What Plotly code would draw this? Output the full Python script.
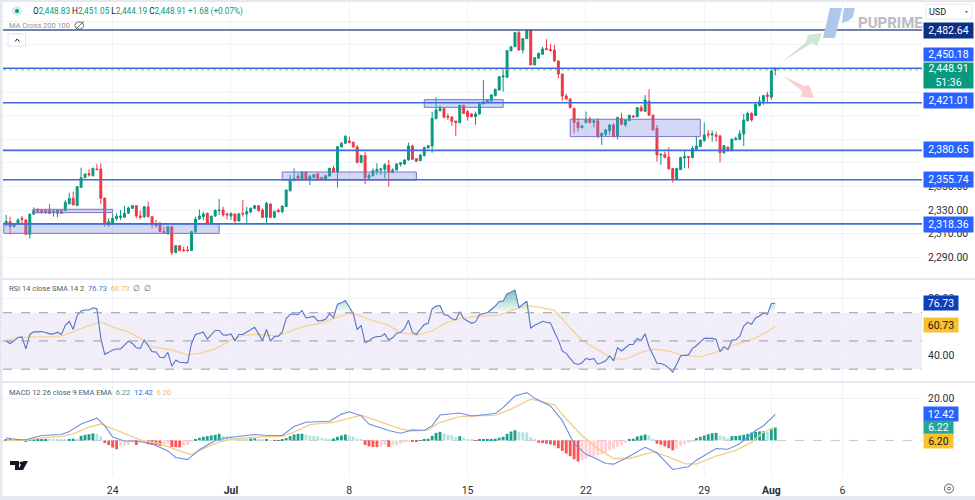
import numpy as np
import plotly.graph_objects as go

W, H = 975, 500

# XAUUSD 4h bars
opens = [2318.8,2320.2,2316.0,2318.3,2323.1,2321.7,2309.5,2326.5,2330.1,2329.6,2329.6,2329.6,2328.4,2327.3,2329.6,2329.6,2335.2,2340.0,2333.8,2349.3,
         2357.5,2360.9,2359.2,2364.9,2364.9,2340.3,2317.4,2318.8,2322.8,2323.9,2323.9,2327.3,2331.5,2333.8,2325.0,2324.5,2332.7,2324.5,2318.3,2318.3,
         2311.8,2310.9,2316.0,2294.2,2299.9,2296.2,2296.2,2295.7,2311.8,2322.5,2324.5,2327.3,2318.8,2325.0,2329.6,2330.1,2326.7,2325.0,2326.7,2320.8,
         2327.3,2326.7,2328.4,2331.5,2333.8,2330.1,2323.9,2335.2,2323.9,2330.1,2328.7,2333.0,2346.5,2355.5,2358.9,2356.4,2362.3,2356.4,2357.8,2360.6,
         2357.5,2355.5,2358.9,2365.4,2362.3,2383.5,2386.6,2388.6,2387.5,2383.5,2370.5,2376.2,2357.2,2359.2,2362.9,2364.0,2364.6,2368.0,2362.0,2364.0,
         2368.8,2369.1,2372.5,2384.4,2373.6,2371.9,2376.2,2382.7,2384.4,2407.5,2414.3,2416.0,2409.5,2408.9,2405.6,2404.1,2418.8,2413.5,2411.5,2409.2,
         2411.5,2420.0,2421.4,2422.5,2427.0,2431.8,2442.8,2442.6,2464.9,2468.5,2480.4,2465.7,2475.3,2482.6,2453.0,2458.7,2462.1,2466.9,2466.0,2465.7,
         2456.4,2445.4,2426.7,2424.2,2416.3,2404.4,2399.9,2404.1,2407.2,2404.4,2405.6,2392.8,2394.3,2397.4,2402.2,2392.3,2407.8,2402.2,2405.8,2409.8,
         2409.0,2416.9,2413.8,2422.2,2410.4,2399.1,2376.7,2377.0,2374.8,2365.2,2356.4,2364.3,2374.2,2375.3,2374.5,2381.6,2383.8,2388.9,2394.5,2393.7,
         2393.7,2392.8,2378.7,2383.2,2380.4,2389.7,2390.0,2394.5,2405.8,2412.0,2410.1,2418.5,2422.2,2427.6,2425.6,2448.83]
highs = [2325.9,2324.5,2318.3,2323.1,2325.0,2322.2,2327.3,2332.4,2331.5,2330.7,2330.7,2335.2,2330.7,2330.1,2330.1,2338.6,2344.8,2345.7,2349.9,2366.0,
         2361.2,2364.6,2366.0,2369.1,2369.7,2340.3,2323.1,2327.3,2327.3,2330.1,2333.8,2332.9,2334.4,2333.8,2329.6,2333.5,2337.2,2324.5,2321.7,2320.2,
         2316.0,2316.6,2316.0,2300.5,2300.5,2299.0,2299.6,2311.8,2324.5,2330.7,2328.7,2327.9,2325.0,2330.7,2339.4,2332.9,2327.9,2327.9,2327.3,2327.9,
         2338.6,2332.9,2332.4,2334.4,2334.4,2331.5,2337.2,2335.8,2329.6,2331.5,2334.1,2347.1,2359.8,2365.4,2361.2,2362.9,2362.9,2359.8,2360.6,2361.8,
         2358.4,2359.8,2366.0,2367.4,2383.8,2388.0,2393.7,2392.3,2388.0,2385.2,2376.7,2379.6,2361.2,2365.4,2369.7,2365.4,2369.7,2372.5,2365.4,2369.7,
         2370.8,2373.1,2387.2,2385.2,2374.2,2377.3,2383.8,2385.2,2413.5,2425.6,2418.8,2417.1,2412.0,2409.2,2405.6,2419.4,2419.4,2414.9,2412.0,2413.5,
         2420.5,2440.3,2423.9,2428.2,2432.9,2443.7,2448.8,2465.2,2468.5,2481.0,2482.1,2475.3,2482.6,2483.2,2459.2,2463.5,2468.5,2474.8,2470.8,2470.0,
         2456.4,2445.4,2428.4,2424.8,2416.3,2407.8,2402.2,2413.5,2409.2,2406.4,2407.8,2395.7,2398.5,2403.0,2403.6,2409.2,2412.6,2407.0,2410.4,2410.4,
         2416.9,2419.1,2427.6,2432.4,2411.0,2402.2,2378.2,2379.6,2383.2,2365.7,2366.0,2375.3,2380.4,2375.9,2384.4,2392.3,2389.4,2404.1,2397.9,2397.4,
         2396.5,2393.7,2385.2,2384.4,2390.9,2392.3,2397.9,2411.5,2413.5,2412.9,2420.5,2426.2,2427.6,2430.4,2450.2,2451.05]
lows = [2316.0,2309.5,2315.4,2317.7,2318.8,2308.9,2305.8,2326.5,2327.3,2326.7,2326.7,2327.3,2324.5,2323.9,2326.7,2329.6,2335.2,2334.4,2333.8,2349.3,
        2357.0,2358.4,2358.4,2364.0,2334.9,2316.0,2316.0,2317.4,2321.1,2321.7,2323.9,2327.3,2331.5,2323.1,2322.2,2323.1,2323.9,2314.6,2315.4,2311.8,
        2310.4,2308.9,2292.0,2293.4,2295.7,2294.8,2294.8,2295.7,2310.4,2321.7,2321.7,2318.3,2318.3,2324.5,2325.9,2324.5,2322.2,2321.7,2319.4,2320.2,
        2324.5,2318.8,2327.3,2330.7,2328.7,2323.1,2318.3,2323.1,2323.1,2327.9,2327.3,2333.0,2345.7,2354.1,2355.5,2355.5,2355.5,2351.3,2356.9,2356.1,
        2355.5,2355.0,2358.4,2362.3,2349.3,2383.5,2386.6,2386.6,2383.5,2369.7,2369.7,2351.9,2356.4,2358.4,2359.8,2359.8,2357.0,2349.9,2361.2,2363.5,
        2366.9,2368.3,2371.9,2372.5,2370.8,2371.4,2375.3,2382.4,2378.7,2407.0,2413.5,2408.1,2406.4,2401.3,2392.8,2403.6,2411.5,2405.8,2408.7,2402.2,
        2410.9,2420.0,2420.8,2422.0,2426.5,2431.3,2430.4,2442.0,2464.9,2468.0,2465.2,2462.9,2475.3,2453.0,2452.9,2458.1,2461.5,2465.7,2464.3,2455.8,
        2441.7,2422.5,2423.4,2416.3,2395.1,2396.5,2399.3,2403.6,2403.6,2400.2,2390.9,2385.2,2392.3,2393.7,2391.7,2390.0,2402.2,2400.7,2405.8,2408.4,
        2409.0,2413.5,2413.2,2409.8,2397.4,2371.1,2368.3,2373.9,2364.0,2353.3,2355.0,2364.0,2365.4,2365.4,2373.9,2381.0,2383.8,2388.0,2390.9,2388.0,
        2388.0,2370.5,2377.6,2379.6,2379.8,2388.9,2389.4,2384.4,2405.0,2405.0,2409.8,2418.0,2419.1,2420.5,2423.4,2444.19]
closes = [2320.5,2316.0,2318.3,2321.7,2322.2,2309.5,2326.5,2329.6,2329.0,2328.7,2328.4,2327.3,2329.0,2329.9,2327.3,2336.6,2340.0,2334.4,2349.9,2357.5,
          2360.6,2359.8,2365.4,2364.3,2340.0,2318.3,2320.2,2323.1,2325.0,2325.0,2327.3,2331.8,2333.8,2325.0,2323.9,2332.9,2324.5,2318.3,2316.9,2311.8,
          2310.9,2316.0,2294.2,2299.9,2295.7,2295.7,2295.7,2311.8,2322.5,2325.0,2326.7,2318.8,2325.0,2329.9,2330.1,2325.9,2325.9,2327.3,2320.8,2326.7,
          2326.7,2328.7,2331.5,2333.8,2329.6,2323.9,2335.8,2323.9,2328.7,2328.7,2333.5,2347.1,2356.1,2356.7,2357.0,2362.3,2356.4,2358.4,2360.1,2356.9,
          2356.4,2359.2,2365.4,2362.3,2383.8,2386.6,2392.3,2387.2,2383.5,2370.5,2376.4,2357.5,2359.2,2363.4,2364.6,2364.9,2368.5,2362.0,2364.0,2369.1,
          2370.2,2372.5,2384.4,2373.1,2371.4,2376.7,2383.0,2384.6,2407.8,2414.9,2416.3,2408.7,2408.7,2405.3,2404.1,2418.8,2412.0,2409.2,2409.2,2411.5,
          2420.0,2421.7,2423.4,2427.6,2432.4,2443.1,2443.7,2465.2,2468.5,2480.4,2465.7,2475.3,2482.6,2453.0,2459.2,2462.9,2466.6,2466.0,2465.2,2456.4,
          2445.4,2426.7,2424.2,2416.9,2404.4,2399.9,2401.3,2406.9,2404.1,2405.8,2392.8,2395.1,2398.0,2402.2,2392.3,2408.4,2402.7,2406.4,2410.4,2409.0,
          2416.9,2414.0,2423.4,2410.4,2398.0,2376.7,2377.3,2374.8,2365.2,2356.7,2365.2,2374.5,2375.3,2374.5,2382.4,2384.4,2389.4,2393.7,2393.7,2394.5,
          2392.5,2378.7,2384.6,2380.4,2390.0,2390.9,2394.8,2406.4,2412.0,2406.4,2419.7,2422.2,2427.0,2426.2,2447.9,2448.91]

rsi = [49.9,48.2,50.1,52.5,52.9,44.3,54.6,56.4,56.4,56.7,56.0,55.0,55.0,56.2,54.6,61.1,63.9,58.1,68.1,71.2,
       71.9,71.9,73.5,72.8,51.8,40.5,41.9,43.6,44.3,44.3,47.1,49.9,48.2,45.2,44.7,50.6,46.6,42.4,42.2,38.4,
       38.2,41.9,32.1,36.3,34.9,34.5,34.5,48.2,54.6,55.5,56.2,51.3,54.6,57.4,57.4,54.3,54.1,55.0,50.1,54.6,
       54.6,56.4,58.1,59.7,55.0,50.1,58.1,49.9,53.1,53.4,56.4,65.8,68.8,69.1,68.6,71.6,66.3,66.7,67.4,64.2,
       64.4,65.3,69.3,66.5,76.1,77.0,78.7,74.0,69.3,58.1,61.1,48.7,50.1,52.2,53.1,53.1,55.0,50.6,52.2,55.5,
       56.0,58.8,64.6,56.0,54.6,58.3,61.6,62.5,72.8,74.7,75.1,68.8,68.1,65.8,64.9,70.7,65.8,64.2,62.5,63.5,
       68.6,69.5,70.0,72.3,74.7,78.0,78.2,83.3,84.5,86.1,73.7,76.3,78.2,59.2,61.1,62.3,63.9,63.2,62.8,56.4,
       50.6,42.9,41.2,37.7,34.2,33.3,34.5,37.7,36.8,37.5,33.5,34.5,35.9,39.4,35.9,45.2,42.9,45.2,47.5,47.5,
       51.8,50.4,55.0,45.9,40.1,34.2,34.0,33.0,30.7,27.9,33.5,39.4,39.8,40.1,44.7,46.6,49.4,51.8,51.8,51.8,
       51.1,42.4,46.1,43.8,50.4,50.8,53.4,60.6,63.2,61.8,66.3,67.7,69.8,68.8,76.5,76.73]
rsi_ma_bars = [0,3,7,11,14,17,20,24,27,31,34,37,42,46,49,53,57,60,64,69,72,75,80,83,87,89,92,97,
               100,104,108,111,115,120,125,128,132,135,139,142,146,150,154,157,161,164,168,171,176,181,185,190,193,195]
rsi_ma = [50.1,52.5,52.9,52.9,53.6,56.4,59.9,63.5,59.9,56.4,51.8,45.9,43.6,40.1,41.2,44.3,50.6,54.1,54.6,53.6,56.9,59.9,62.8,65.8,69.8,68.6,65.3,61.1,
          56.0,54.1,56.9,62.3,65.8,67.7,68.1,71.6,75.1,74.0,71.6,62.3,50.6,43.6,37.3,37.3,41.9,44.3,42.9,40.1,38.7,42.9,47.5,52.2,56.4,60.73]

macd_bars = [0,3,5,9,14,16,19,23,25,27,30,33,37,41,43,46,49,53,56,59,63,66,70,73,76,82,85,87,90,92,97,
             100,103,106,108,110,113,115,118,124,126,129,132,134,138,141,144,147,149,152,154,157,162,165,169,173,175,180,183,186,190,192,195]
macd = [1.25,0.3,0.3,2.35,2.8,4.2,7.8,10.6,7.0,1.6,-0.3,-0.3,-1.6,-5.0,-8.1,-9.1,-4.4,0.0,1.25,1.9,2.8,2.35,2.35,6.6,8.6,9.1,12.5,13.6,11.7,7.8,4.7,
        3.4,5.0,4.7,7.0,12.05,12.5,13.0,11.6,12.8,15.6,21.1,22.7,20.0,16.4,9.4,-1.6,-6.6,-8.1,-11.0,-11.3,-8.6,-3.3,-5.9,-13.8,-12.5,-9.4,-3.9,-4.2,-1.6,4.7,7.0,12.42]
signal_bars = [0,5,9,14,17,21,24,27,31,34,39,43,47,51,54,58,63,70,73,77,83,87,90,94,
               100,103,107,110,115,118,124,128,133,135,139,142,146,150,154,158,164,168,172,175,180,185,189,192,195]
signal = [0.0,0.0,1.25,1.9,3.1,6.3,7.8,5.5,2.35,0.3,-1.6,-4.4,-6.7,-3.1,-0.8,0.8,1.6,1.9,3.9,7.5,8.6,10.5,12.05,9.4,
          5.5,4.4,5.0,8.6,11.3,11.6,12.05,14.9,19.6,18.8,16.9,10.2,2.35,-3.9,-8.6,-8.6,-5.5,-7.8,-11.0,-11.3,-7.5,-4.7,-0.8,3.9,6.20]
hist = [0.31,0.31,0.25,0.3,0.16,-0.3,0.16,0.47,0.55,0.63,0.7,0.5,0.45,0.4,0.31,0.25,0.78,0.85,0.7,2.19,
        2.66,2.97,3.3,3.1,1.9,-1.25,-2.19,-3.44,-4.23,-2.5,-2.35,-2.19,-1.1,-2.19,-0.94,-0.78,-1.88,-2.19,-2.5,-2.6,
        -1.88,-1.57,-3.13,-3.2,-3.3,-2.5,-2.19,-0.78,0.47,1.25,1.72,2.03,2.35,2.66,3.13,2.19,2.03,1.88,0.94,0.63,
        0.31,0.25,0.94,1.0,0.31,0.25,0.47,0.16,-0.1,0.1,0.47,1.1,2.03,2.82,3.13,3.2,2.82,2.19,2.1,1.88,
        1.25,0.94,0.6,0.94,1.72,2.35,2.82,2.35,1.88,0.78,0.31,-2.19,-2.82,-3.13,-3.2,-2.82,-2.19,-3.13,-2.35,-2.19,
        -1.57,-0.94,-0.47,-0.5,-0.55,0.16,0.47,0.78,2.19,3.6,4.07,3.44,2.82,2.35,1.57,2.03,1.25,0.63,0.31,-0.2,
        0.31,0.35,0.47,0.63,0.78,1.25,1.72,3.13,4.23,4.85,4.07,3.91,3.8,1.57,0.31,-1.1,-1.25,-1.57,-1.88,-2.35,
        -3.76,-5.0,-6.26,-7.51,-8.92,-10.02,-9.39,-8.61,-7.83,-7.51,-7.04,-6.57,-6.26,-4.7,-3.91,-3.13,-2.35,-1.1,0.63,0.78,
        1.88,2.35,2.82,2.35,0.78,-1.57,-2.03,-2.82,-3.76,-4.7,-3.91,-2.82,-1.88,-1.1,-0.31,1.1,1.72,2.35,2.97,3.44,
        3.6,2.35,2.03,1.1,2.03,2.1,2.35,2.66,3.13,3.76,4.07,4.3,4.38,4.1,5.63,6.22]

# drawn levels and zones from the chart
levels = [2450.18, 2421.01, 2380.65, 2355.74, 2318.36]
top_level = 2482.64
last_price = 2448.91
zones = [(6.8, 27, 2327.9, 2330.7), (-0.6, 54, 2310.3, 2318.3), (70, 104, 2355.5, 2362.3),
         (106, 126, 2417.1, 2423.6), (143, 176, 2392.3, 2407.0)]

time_ticks = [27, 57, 87, 117, 147, 177, 194, 212]
time_labels = ["24", "<b>Jul</b>", "8", "15", "22", "29", "<b>Aug</b>", "6"]

FONT = "Roboto, Arial, sans-serif"
GRID = "#f0f3fa"
TEXT = "#131722"
GREEN, RED = "#089981", "#f23645"
NB = "\u00a0\u00a0"


def px(x):
    return x / W


def py(y):
    return 1 - y / H


def dom(top, bot):
    return [py(bot), py(top)]


bars = np.arange(len(closes))
x_range = [-0.8, 232.2]
# price, rsi and macd panes are linear, ranges taken from the tick spacing
main_range = [2272.5, 2505.5]
rsi_range = [21.6, 93.2]
macd_range = [-17.4, 27.3]

fig = go.Figure()

fig.add_trace(go.Candlestick(x=bars, open=opens, high=highs, low=lows, close=closes,
                             increasing=dict(line=dict(color=GREEN, width=1), fillcolor=GREEN),
                             decreasing=dict(line=dict(color=RED, width=1), fillcolor=RED),
                             whiskerwidth=0, xaxis="x", yaxis="y", showlegend=False))

# rsi above the 70 band, fades out towards the band
fig.add_trace(go.Scatter(x=bars, y=[70] * len(bars), mode="lines", line=dict(width=0),
                         xaxis="x2", yaxis="y2", showlegend=False))
fig.add_trace(go.Scatter(x=bars, y=np.maximum(rsi, 70), mode="lines", line=dict(width=0), fill="tonexty",
                         fillgradient=dict(type="vertical", start=86, stop=70,
                                           colorscale=[[0, "rgba(8,153,129,0.55)"], [1, "rgba(8,153,129,0.02)"]]),
                         xaxis="x2", yaxis="y2", showlegend=False))
fig.add_trace(go.Scatter(x=rsi_ma_bars, y=rsi_ma, mode="lines", line=dict(color="#f6d49a", width=1.4),
                         xaxis="x2", yaxis="y2", showlegend=False))
fig.add_trace(go.Scatter(x=bars, y=rsi, mode="lines", line=dict(color="#5574c4", width=1.1),
                         xaxis="x2", yaxis="y2", showlegend=False))

# macd histogram colour depends on direction
hist_colors = []
for i, v in enumerate(hist):
    prev = hist[i - 1] if i else 0
    if v >= 0:
        hist_colors.append("#1f9e8c" if v >= prev else "#b6e2dc")
    else:
        hist_colors.append("#ff5252" if v <= prev else "#ffcdd2")
fig.add_trace(go.Bar(x=bars, y=hist, marker=dict(color=hist_colors, line=dict(width=0)), width=0.72,
                     xaxis="x3", yaxis="y3", showlegend=False))
fig.add_trace(go.Scatter(x=signal_bars, y=signal, mode="lines", line=dict(color="#f4cd8a", width=1.3),
                         xaxis="x3", yaxis="y3", showlegend=False))
fig.add_trace(go.Scatter(x=macd_bars, y=macd, mode="lines", line=dict(color="#6e90e0", width=1.1),
                         xaxis="x3", yaxis="y3", showlegend=False))

shapes = []
# rsi band
shapes.append(dict(type="rect", xref="x2", yref="y2", x0=x_range[0], x1=x_range[1], y0=30, y1=70,
                   fillcolor="rgba(126,87,194,0.10)", line=dict(width=0), layer="below"))
for v in [70, 50, 30]:
    shapes.append(dict(type="line", xref="x2", yref="y2", x0=x_range[0], x1=x_range[1], y0=v, y1=v,
                       line=dict(color="#9a9ca6", width=1, dash="dash")))
shapes.append(dict(type="line", xref="x3", yref="y3", x0=x_range[0], x1=x_range[1], y0=0, y1=0,
                   line=dict(color="#c4c6cf", width=1, dash="dash"), layer="below"))

for x0, x1, y0, y1 in zones:
    shapes.append(dict(type="rect", xref="x", yref="y", x0=x0, x1=x1, y0=y0, y1=y1,
                       fillcolor="rgba(120,140,230,0.34)", line=dict(color="#7f72c4", width=1)))
shapes.append(dict(type="line", xref="x", yref="y", x0=x_range[0], x1=x_range[1], y0=last_price, y1=last_price,
                   line=dict(color="#7cc7b8", width=1, dash="dot")))
for v in levels:
    shapes.append(dict(type="line", xref="x", yref="y", x0=x_range[0], x1=x_range[1], y0=v, y1=v,
                       line=dict(color="#3c6cdc", width=1.6)))
shapes.append(dict(type="line", xref="x", yref="y", x0=x_range[0], x1=x_range[1], y0=top_level, y1=top_level,
                   line=dict(color="#43598f", width=1.6)))


def poly(points, color):
    path = "M " + " L ".join(f"{px(a):.5f},{py(b):.5f}" for a, b in points) + " Z"
    return dict(type="path", xref="paper", yref="paper", path=path, fillcolor=color, line=dict(width=0))


# forecast arrows
shapes.append(poly([(782, 62), (806, 42), (808, 35), (822, 33), (817, 46), (812, 43)], "#cfe7d2"))
shapes.append(poly([(782, 75), (804, 86), (809, 85), (814, 98), (801, 97), (802, 91)], "#fbcfcf"))
# broker logo
shapes.append(poly([(830, 8), (842, 8), (835, 38), (823, 38)], "#aec7ea"))
shapes.append(poly([(844, 8), (855, 8), (853, 17), (848, 21), (842, 23)], "#aec7ea"))
# tradingview mark
shapes.append(poly([(10, 461), (19, 461), (19, 470), (15, 470), (15, 465), (10, 465)], "#131722"))
shapes.append(poly([(23, 461), (28, 461), (23, 470), (18, 470)], "#131722"))
shapes.append(dict(type="circle", xref="paper", yref="paper", x0=px(19.5), x1=px(22.5), y0=py(464.5), y1=py(461.5),
                   fillcolor="#131722", line=dict(width=0)))
# live dot with halo
shapes.append(dict(type="circle", xref="paper", yref="paper", x0=px(12), x1=px(22), y0=py(16), y1=py(6),
                   fillcolor="#d4efe9", line=dict(width=0)))
shapes.append(dict(type="circle", xref="paper", yref="paper", x0=px(15), x1=px(19), y0=py(13), y1=py(9),
                   fillcolor=GREEN, line=dict(width=0)))
# collapse button
shapes.append(dict(type="rect", xref="paper", yref="paper", x0=px(8), x1=px(25.5), y0=py(46), y1=py(34),
                   fillcolor="white", line=dict(color="#e0e3eb", width=1)))
shapes.append(dict(type="path", xref="paper", yref="paper",
                   path=f"M {px(15):.5f},{py(41.5):.5f} L {px(17.2):.5f},{py(39):.5f} L {px(19.4):.5f},{py(41.5):.5f}",
                   line=dict(color=TEXT, width=1)))
# eye icon
shapes.append(dict(type="circle", xref="paper", yref="paper", x0=px(75), x1=px(83.5), y0=py(29), y1=py(22),
                   line=dict(color="#6a6d78", width=1)))
shapes.append(dict(type="line", xref="paper", yref="paper", x0=px(75), x1=px(84), y0=py(30), y1=py(21),
                   line=dict(color="#6a6d78", width=1)))
# usd box and its chevron
shapes.append(dict(type="rect", xref="paper", yref="paper", x0=px(926), x1=px(972), y0=py(19), y1=py(4),
                   fillcolor="white", line=dict(color="#e8eaf0", width=1)))
shapes.append(dict(type="path", xref="paper", yref="paper",
                   path=f"M {px(965):.5f},{py(11):.5f} L {px(968):.5f},{py(11):.5f} L {px(966.5):.5f},{py(13):.5f} Z",
                   fillcolor="#5d606b", line=dict(width=0)))
# settings icon
shapes.append(dict(type="circle", xref="paper", yref="paper", x0=px(944.5), x1=px(953.5), y0=py(493), y1=py(484),
                   line=dict(color="#5d606b", width=1)))
shapes.append(dict(type="circle", xref="paper", yref="paper", x0=px(947.5), x1=px(950.5), y0=py(490), y1=py(487),
                   line=dict(color="#5d606b", width=1)))
# pane separators and window frame
for top, bot in [(278, 280), (381, 383), (496, 500)]:
    shapes.append(dict(type="rect", xref="paper", yref="paper", x0=0, x1=1, y0=py(bot), y1=py(top),
                       fillcolor="#e6e8f0", line=dict(width=0)))
shapes.append(dict(type="rect", xref="paper", yref="paper", x0=0, x1=1, y0=py(2), y1=1,
                   fillcolor="#e6e8f0", line=dict(width=0)))
shapes.append(dict(type="rect", xref="paper", yref="paper", x0=0, x1=px(2.5), y0=0, y1=1,
                   fillcolor="#e6e8f0", line=dict(width=0)))

annotations = []


def note(x, y, text, color=TEXT, size=10.5, anchor="left", **kw):
    annotations.append(dict(x=px(x), y=py(y), xref="paper", yref="paper", text=text, showarrow=False,
                            xanchor=anchor, yanchor="middle", align=anchor,
                            font=dict(family=FONT, size=size, color=color), borderpad=0, **kw))


def tag(y, text, bg, color="white", width=49, height=15):
    annotations.append(dict(x=px(923), y=py(y), xref="paper", yref="paper", text=text, showarrow=False,
                            xanchor="left", yanchor="middle", align="center", width=width, height=height,
                            bgcolor=bg, font=dict(family=FONT, size=10.5, color=color), borderpad=0))


def teal(s):
    return f'<span style="color:#089981">{s}</span>'


note(32, 11, "O" + teal("2,448.83") + " H" + teal("2,451.05") + " L" + teal("2,444.19") + " C" + teal("2,448.91")
     + " " + teal("+1.68 (+0.07%)"), size=8.2)
note(8, 25, "MA Cross 200 100", color="#8f929c", size=7.4)
note(857, 23, "<b>PUPRIME</b>", color="#b9bcc4", size=15)
note(928, 11.5, "USD", size=9)

tag(30, "2,482.64", "#0d2f86")
tag(55, "2,450.18", "#2962ff", height=13)
tag(101, "2,421.01", "#2962ff")
tag(149.5, "2,380.65", "#2962ff")
tag(179, "2,355.74", "#2962ff")
tag(225, "2,318.36", "#2962ff")
tag(75, "2,448.91<br>51:36", "#089981", height=25)

note(8, 288, f'RSI 14 close SMA 14 2{NB}<span style="color:#4a6fc8">76.73</span>{NB}<span style="color:#f5b942">60.73</span>{NB}∅{NB}∅',
     color="#555a66", size=7.5)
tag(302.5, "76.73", "#0f3fb8", width=34, height=14)
tag(325, "60.73", "#fbc02d", color=TEXT, width=34, height=14)

note(8, 392, f'MACD 12 26 close 9 EMA EMA{NB}<span style="color:#26a69a">6.22</span>{NB}<span style="color:#2962ff">12.42</span>{NB}<span style="color:#f5b942">6.20</span>',
     color="#555a66", size=7.5)
tag(413.5, "12.42", "#2962ff", width=34, height=14)
tag(427, "6.22", "#26a69a", width=29, height=13)
tag(440.5, "6.20", "#fbc02d", color=TEXT, width=29, height=14)

axis_font = dict(family=FONT, size=10.5, color="#2a2e39")


def xaxis(dom_anchor, show_labels=False):
    return dict(domain=[px(3), px(922)], range=x_range, anchor=dom_anchor, tickmode="array",
                tickvals=time_ticks, ticktext=time_labels, showticklabels=show_labels, showgrid=True,
                gridcolor=GRID, gridwidth=1, zeroline=False, showline=False, ticks="",
                rangeslider=dict(visible=False), tickfont=axis_font, ticklabelstandoff=5)


def yaxis(dom_range, rng, vals, labels, anchor):
    return dict(domain=dom_range, range=rng, anchor=anchor, side="right", tickmode="array", tickvals=vals,
                ticktext=labels, showgrid=True, gridcolor=GRID, gridwidth=1, zeroline=False, showline=False,
                ticks="", tickfont=axis_font, ticklabelposition="outside", ticklabelstandoff=5)


# only the lower price ticks show, the rest sit under the level tags
main_ticks = list(range(2290, 2500, 20))
main_labels = [f"{v:,}.00" if v <= 2350 else "" for v in main_ticks]

fig.update_layout(
    width=W, height=H, autosize=False, margin=dict(l=0, r=0, t=0, b=0),
    paper_bgcolor="white", plot_bgcolor="white", showlegend=False, hovermode=False,
    barmode="overlay", shapes=shapes, annotations=annotations, font=dict(family=FONT),
    xaxis=xaxis("y"),
    xaxis2=xaxis("y2"),
    xaxis3=xaxis("y3", show_labels=True),
    yaxis=yaxis(dom(3, 278), main_range, main_ticks, main_labels, "x"),
    yaxis2=yaxis(dom(280, 381), rsi_range, [40, 60, 80], ["40.00", "", "80.00"], "x2"),
    yaxis3=yaxis(dom(383, 477), macd_range, [20], ["20.00"], "x3"),
)

fig.write_html("out.html", config={"displayModeBar": False},
               post_script="document.body.style.margin='0';document.body.style.overflow='hidden';")
